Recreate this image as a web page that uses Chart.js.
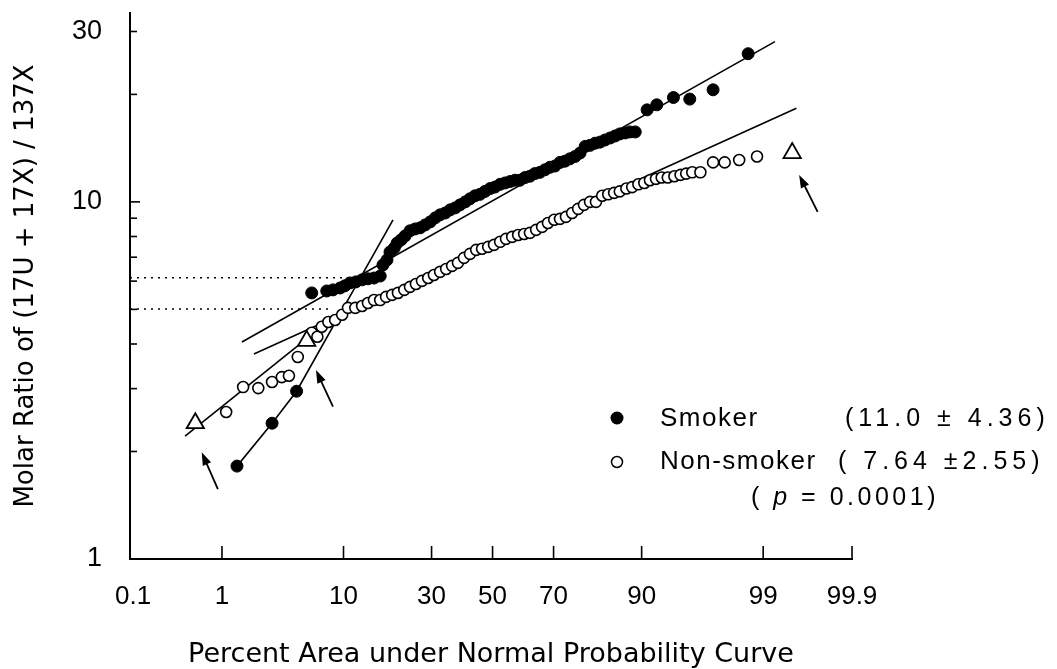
<!DOCTYPE html>
<html>
<head>
<meta charset="utf-8">
<script src="https://cdn.jsdelivr.net/npm/chart.js@4.4.1/dist/chart.umd.min.js"></script>
<style>
body{margin:0;background:#fff;}
#wrap{width:1057px;height:669px;position:relative;}
</style>
</head>
<body>
<div id="wrap"><canvas id="c"></canvas></div>
<script>
/* DATA : x = percent area (probability), y = molar ratio */
let smokerPct=[1.4,2.9,4.6,6.0,7.7,8.5,9.5,10.2,11.0,12.0,13.1,14.2,15.4,16.7,17.3,18.2,18.9,19.9,20.6,21.6,22.6,23.9,25.3,26.7,28.1,29.6,31.1,32.6,34.2,35.8,37.4,39.0,40.7,42.3,44.0,45.7,47.4,49.2,50.8,52.6,54.3,56.0,57.7,59.3,61.0,62.6,64.2,65.8,67.4,68.9,70.4,71.9,73.3,74.7,76.1,77.4,78.7,79.9,81.1,82.2,83.3,84.4,85.4,86.3,87.3,88.1,89.0,90.8,92.1,94.0,95.5,97.1,98.6];
let smokerRatio=[1.82,2.40,2.95,5.56,5.63,5.67,5.74,5.82,5.93,5.97,6.05,6.09,6.12,6.20,6.66,6.88,7.24,7.43,7.67,7.83,8.03,8.30,8.40,8.46,8.62,8.79,9.02,9.20,9.31,9.50,9.62,9.81,10.0,10.2,10.4,10.5,10.7,10.9,11.0,11.2,11.3,11.4,11.5,11.5,11.7,11.8,12.0,12.1,12.3,12.5,12.6,12.9,13.0,13.2,13.4,13.7,14.3,14.4,14.6,14.7,14.9,15.1,15.3,15.5,15.6,15.7,15.7,18.1,18.7,19.6,19.4,20.6,26.0];

let nonPct=[1.1,1.6,2.2,2.9,3.5,4.0,4.7,6.0,6.6,7.1,7.9,8.8,9.8,10.7,11.9,13.1,14.2,15.4,16.7,18.0,19.4,20.8,22.4,23.9,25.5,27.2,29.0,30.7,32.6,34.5,36.4,38.3,40.3,42.3,44.4,46.4,48.5,50.5,52.6,54.6,56.7,58.7,60.7,62.6,64.6,66.5,68.3,70.2,71.9,73.6,75.3,76.9,78.4,79.9,81.3,82.7,84.0,85.2,86.3,87.5,88.5,89.5,90.4,91.2,92.0,92.7,93.4,94.1,94.7,95.2,95.7,96.3,97.1,97.7,98.3,98.85];
let nonRatio=[2.58,3.03,3.01,3.13,3.23,3.26,3.68,4.30,4.19,4.47,4.61,4.67,4.83,5.05,5.05,5.11,5.21,5.31,5.31,5.42,5.49,5.56,5.67,5.78,5.89,6.01,6.12,6.24,6.37,6.49,6.62,6.75,6.97,7.15,7.34,7.39,7.48,7.58,7.73,7.88,7.98,8.08,8.13,8.19,8.35,8.51,8.73,8.91,8.96,9.08,9.31,9.56,9.81,10.0,10.0,10.4,10.5,10.6,10.7,10.9,11.0,11.2,11.3,11.5,11.6,11.7,11.7,11.8,11.9,12.0,12.1,12.1,12.9,12.9,13.1,13.4];

// open triangles (marked by arrows)
let triPct=[0.53,5.5,99.5];
let triRatio=[2.40,4.08,13.7];

// fitted lines
let smokerFit=[[1.56,4.05],[99.24,28.1]];
let nonFit=[[2.01,3.75],[99.55,18.3]];
let smokerLow=[[1.4,1.82],[2.9,2.40],[4.6,2.95],[19.6,8.91]];
let nonLow=[[0.41,2.21],[9.5,4.92]];
let dotUpper=[[0.0913,6.13],[10.7,6.13]];
let dotLower=[[0.0913,5.01],[8.4,5.01]];

// arrows [tail, head]
let arrows=[[[0.91,1.57],[0.62,1.99]],[[8.5,2.67],[6.45,3.38]],[[99.74,9.38],[99.58,11.9]]];

// axes
let xTickPct=[0.1,1,10,30,50,70,90,99,99.9];
let xTickLabels=["0.1","1","10","30","50","70","90","99","99.9"];
let yTicks=[1,2,3,4,5,6,7,8,9,10,20,30];
let yLabels={1:"1",10:"10",30:"30"};

/* inverse normal (probit scale) */
function probit(p){
const a=[-39.69683028665376,220.9460984245205,-275.9285104469687,138.3577518672690,-30.66479806614716,2.506628277459239];
const b=[-54.47609879822406,161.5858368580409,-155.6989798598866,66.80131188771972,-13.28068155288572];
const c=[-0.007784894002430293,-0.3223964580411365,-2.400758277161838,-2.549732539343734,4.374664141464968,2.938163982698783];
const d=[0.007784695709041462,0.3224671290700398,2.445134137142996,3.754408661907416];
let q,r;
if(p<0.02425){
q=Math.sqrt(-2*Math.log(p));
return (((((c[0]*q+c[1])*q+c[2])*q+c[3])*q+c[4])*q+c[5])/((((d[0]*q+d[1])*q+d[2])*q+d[3])*q+1);
}
if(p>1-0.02425){
q=Math.sqrt(-2*Math.log(1-p));
return -(((((c[0]*q+c[1])*q+c[2])*q+c[3])*q+c[4])*q+c[5])/((((d[0]*q+d[1])*q+d[2])*q+d[3])*q+1);
}
q=p-0.5;r=q*q;
return (((((a[0]*r+a[1])*r+a[2])*r+a[3])*r+a[4])*r+a[5])*q/(((((b[0]*r+b[1])*r+b[2])*r+b[3])*r+b[4])*r+1);
}
function z(pct){return probit(pct/100);}
function pts(xs,ys){return xs.map((p,i)=>({x:z(p),y:ys[i]}));}
function seg(arr){return arr.map(e=>({x:z(e[0]),y:e[1]}));}

const FONT="'Liberation Sans', Arial, Helvetica, sans-serif";
const TFONT="'DejaVu Sans', 'Liberation Sans', sans-serif";

function lineSet(arr,dash,w){
return {type:"scatter",data:seg(arr),showLine:true,pointRadius:0,borderColor:"#000",borderWidth:w||1.6,borderDash:dash||[],order:3};
}

/* extra drawing : inward ticks, arrows, legend */
const extras={
id:"extras",
afterDatasetsDraw(chart){
let c=chart.ctx, xs=chart.scales.x, ys=chart.scales.y;
c.save();
c.strokeStyle="#000";c.fillStyle="#000";c.lineWidth=1.6;
// y ticks inward
yTicks.forEach(v=>{
if(v==1) return;
let py=ys.getPixelForValue(v);
let len=(v==10)?10:7;
c.beginPath();c.moveTo(xs.left,py);c.lineTo(xs.left+len,py);c.stroke();
});
// x ticks inward
xTickPct.forEach(p=>{
if(p==0.1) return;
let px=xs.getPixelForValue(z(p));
c.beginPath();c.moveTo(px,ys.bottom);c.lineTo(px,ys.bottom-13);c.stroke();
});
// arrows
arrows.forEach(a=>{
let x1=xs.getPixelForValue(z(a[0][0])),y1=ys.getPixelForValue(a[0][1]);
let x2=xs.getPixelForValue(z(a[1][0])),y2=ys.getPixelForValue(a[1][1]);
let ang=Math.atan2(y2-y1,x2-x1);
c.lineWidth=1.8;
c.beginPath();c.moveTo(x1,y1);c.lineTo(x2-Math.cos(ang)*6,y2-Math.sin(ang)*6);c.stroke();
c.beginPath();
c.moveTo(x2,y2);
c.lineTo(x2-Math.cos(ang)*13+Math.sin(ang)*4.5,y2-Math.sin(ang)*13-Math.cos(ang)*4.5);
c.lineTo(x2-Math.cos(ang)*13-Math.sin(ang)*4.5,y2-Math.sin(ang)*13+Math.cos(ang)*4.5);
c.closePath();c.fill();
});
// legend
c.lineWidth=1.5;
c.beginPath();c.arc(617,418,6.5,0,Math.PI*2);c.fill();
c.beginPath();c.arc(617,462,5.5,0,Math.PI*2);c.fillStyle="#fff";c.fill();c.stroke();
c.fillStyle="#000";
c.textBaseline="middle";c.textAlign="left";
c.font="26px "+FONT;
c.letterSpacing="1.5px";
c.fillText("Smoker",660,419);
c.fillText("Non-smoker",660,462);
c.letterSpacing="5px";
c.font="25px "+FONT;
c.fillText("(11.0 \u00b1 4.36)",845,419);
c.fillText("( 7.64 \u00b12.55)",838,462);
c.letterSpacing="3.5px";
let t1="( ",t2="p",t3=" = 0.0001)";
let px=751;
c.fillText(t1,px,498);px+=c.measureText(t1).width;
c.font="italic 25px "+FONT;
c.fillText(t2,px,498);px+=c.measureText(t2).width;
c.font="25px "+FONT;
c.fillText(t3,px,498);
c.restore();
}
};

new Chart(document.getElementById("c"),{
type:"scatter",
data:{
datasets:[
lineSet(smokerFit),
lineSet(nonFit),
lineSet(smokerLow),
lineSet(nonLow),
lineSet(dotUpper,[2,5],1.5),
lineSet(dotLower,[2,5],1.5),
{label:"Smoker",data:pts(smokerPct,smokerRatio),pointRadius:6,pointBackgroundColor:"#000",pointBorderColor:"#000",pointBorderWidth:1,order:2},
{label:"Non-smoker",data:pts(nonPct,nonRatio),pointRadius:5.5,pointBackgroundColor:"#fff",pointBorderColor:"#000",pointBorderWidth:1.6,order:1},
{label:"tri",data:pts(triPct,triRatio),pointStyle:"triangle",pointRadius:10,pointBackgroundColor:"#fff",pointBorderColor:"#000",pointBorderWidth:1.8,order:0}
]
},
options:{
responsive:true,
maintainAspectRatio:false,
animation:false,
layout:{padding:{left:13,right:205,top:13,bottom:0}},
plugins:{legend:{display:false},tooltip:{enabled:false}},
scales:{
x:{
type:"linear",
min:-3.117,max:3.09,
grid:{display:false},
border:{display:true,color:"#000",width:2},
afterBuildTicks:s=>{s.ticks=xTickPct.map(p=>({value:z(p)}));},
afterFit:s=>{s.height=110;s.paddingLeft=0;s.paddingRight=0;},
ticks:{autoSkip:false,maxRotation:0,padding:14,color:"#000",font:{family:FONT,size:26},
callback:(v,i)=>xTickLabels[i]},
title:{display:true,text:"Percent Area under Normal Probability Curve",color:"#000",
font:{family:TFONT,size:27,lineHeight:1},padding:{top:0,bottom:1}}
},
y:{
type:"logarithmic",
min:1,max:33.8,
grid:{display:false},
border:{display:true,color:"#000",width:2},
afterBuildTicks:s=>{s.ticks=yTicks.map(v=>({value:v}));},
afterFit:s=>{s.width=117;s.paddingTop=0;s.paddingBottom=0;},
ticks:{autoSkip:false,padding:20,color:"#000",font:{family:FONT,size:27},
callback:v=>yLabels[v]||""},
title:{display:true,text:"Molar Ratio of (17U + 17X) / 137X",color:"#000",
font:{family:TFONT,size:26,lineHeight:1},padding:{top:0,bottom:0}}
}
}
},
plugins:[extras]
});
</script>
</body>
</html>
